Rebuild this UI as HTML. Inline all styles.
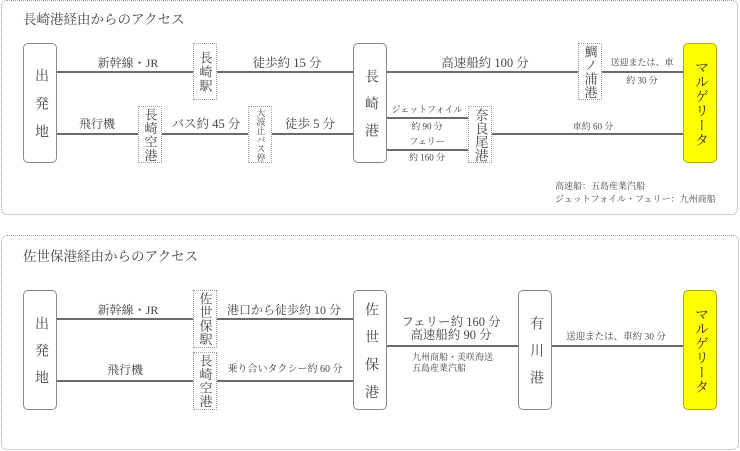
<!DOCTYPE html>
<html><head><meta charset="utf-8">
<style>
html,body{margin:0;padding:0;background:#fff;}
body{width:740px;height:451px;position:relative;overflow:hidden;font-family:"Liberation Serif","Noto Serif CJK SC",serif;color:#444;}
.p{position:absolute;border:1px dotted #9a9a9a;border-radius:6px;box-sizing:border-box;}
.b,.d,.y{position:absolute;box-sizing:border-box;display:flex;align-items:center;justify-content:center;background:#fff;}
.b{border:1px solid #8a8a8a;border-radius:5px;}
.d{border:1px dotted #999;}
.y{border:1px solid #b0a800;border-radius:5px;background:#ffff00;}
.v{writing-mode:vertical-rl;text-orientation:upright;line-height:1;white-space:nowrap;}
.l{position:absolute;height:2px;background:#6b6b6b;}
.t{position:absolute;transform:translate(-50%,-50%);white-space:nowrap;line-height:1;}
.tl{position:absolute;white-space:nowrap;line-height:1;}
</style></head><body>

<!-- Panel 1 -->
<div class="p" style="left:1px;top:0;width:737px;height:215px"></div>
<div class="tl" style="left:23px;top:13px;font-size:13.5px;color:#444">長崎港経由からのアクセス</div>

<div class="l" style="left:57px;top:71px;width:136px"></div>
<div class="l" style="left:217px;top:71px;width:136px"></div>
<div class="l" style="left:387px;top:71px;width:191px"></div>
<div class="l" style="left:602px;top:71px;width:81px"></div>
<div class="l" style="left:57px;top:133px;width:81px"></div>
<div class="l" style="left:162px;top:133px;width:86px"></div>
<div class="l" style="left:272px;top:133px;width:81px"></div>
<div class="l" style="left:492px;top:133px;width:191px"></div>
<div class="l" style="left:387px;top:117px;width:81px"></div>
<div class="l" style="left:387px;top:149px;width:81px"></div>

<div class="b" style="left:23px;top:43px;width:34px;height:120px"><span class="v" style="font-size:14px;letter-spacing:14px;padding-top:14px">出発地</span></div>
<div class="d" style="left:193px;top:43px;width:24px;height:57px"><span class="v" style="font-size:13px;letter-spacing:1px;padding-top:1px">長崎駅</span></div>
<div class="d" style="left:138px;top:106px;width:24px;height:57px"><span class="v" style="font-size:13px;letter-spacing:0.5px">長崎空港</span></div>
<div class="d" style="left:248px;top:106px;width:24px;height:57px"><span class="v" style="font-size:9px;letter-spacing:0px">大波止バス停</span></div>
<div class="b" style="left:353px;top:43px;width:34px;height:120px"><span class="v" style="font-size:14px;letter-spacing:13px;padding-top:13px">長崎港</span></div>
<div class="d" style="left:578px;top:43px;width:24px;height:57px"><span class="v" style="font-size:13px;letter-spacing:0.5px">鯛ノ浦港</span></div>
<div class="d" style="left:468px;top:106px;width:24px;height:57px"><span class="v" style="font-size:13.5px;letter-spacing:0px">奈良尾港</span></div>
<div class="y" style="left:683px;top:43px;width:34px;height:120px"><span class="v" style="font-size:14px;letter-spacing:0.5px;color:#333">マルゲリータ</span></div>

<div class="t" style="left:128px;top:63px;font-size:12px">新幹線・JR</div>
<div class="t" style="left:287px;top:63px;font-size:12.5px">徒歩約 15 分</div>
<div class="t" style="left:97px;top:124px;font-size:12px">飛行機</div>
<div class="t" style="left:206px;top:124px;font-size:12.5px">バス約 45 分</div>
<div class="t" style="left:310px;top:124px;font-size:12.5px">徒歩 5 分</div>
<div class="t" style="left:485px;top:63px;font-size:12.5px">高速船約 100 分</div>
<div class="t" style="left:642px;top:63px;font-size:9px">送迎または、車</div>
<div class="t" style="left:642px;top:81px;font-size:9px">約 30 分</div>
<div class="t" style="left:427px;top:110px;font-size:9px">ジェットフォイル</div>
<div class="t" style="left:427px;top:127px;font-size:9px">約 90 分</div>
<div class="t" style="left:427px;top:142px;font-size:9px">フェリー</div>
<div class="t" style="left:427px;top:158px;font-size:9px">約 160 分</div>
<div class="t" style="left:593px;top:127px;font-size:9px">車約 60 分</div>
<div class="tl" style="left:555px;top:180px;font-size:9px;line-height:13px">高速船：五島産業汽船<br>ジェットフォイル・フェリー：九州商船</div>

<!-- Panel 2 -->
<div class="p" style="left:1px;top:235px;width:738px;height:215px"></div>
<div class="tl" style="left:23px;top:250px;font-size:13.5px;color:#444">佐世保港経由からのアクセス</div>

<div class="l" style="left:57px;top:318px;width:136px"></div>
<div class="l" style="left:217px;top:318px;width:136px"></div>
<div class="l" style="left:57px;top:380px;width:136px"></div>
<div class="l" style="left:217px;top:380px;width:136px"></div>
<div class="l" style="left:387px;top:345px;width:131px"></div>
<div class="l" style="left:552px;top:345px;width:131px"></div>

<div class="b" style="left:23px;top:290px;width:34px;height:120px"><span class="v" style="font-size:14px;letter-spacing:13px;padding-top:13px">出発地</span></div>
<div class="d" style="left:193px;top:290px;width:24px;height:58px"><span class="v" style="font-size:13px;letter-spacing:0.5px">佐世保駅</span></div>
<div class="d" style="left:193px;top:352px;width:24px;height:58px"><span class="v" style="font-size:13px;letter-spacing:0.5px">長崎空港</span></div>
<div class="b" style="left:353px;top:290px;width:34px;height:120px"><span class="v" style="font-size:14px;letter-spacing:13.5px;padding-top:13.5px">佐世保港</span></div>
<div class="b" style="left:518px;top:290px;width:34px;height:120px"><span class="v" style="font-size:14px;letter-spacing:13px;padding-top:13px">有川港</span></div>
<div class="y" style="left:683px;top:290px;width:34px;height:120px"><span class="v" style="font-size:14px;letter-spacing:0.5px;color:#333">マルゲリータ</span></div>

<div class="t" style="left:128px;top:310px;font-size:12px">新幹線・JR</div>
<div class="t" style="left:284px;top:310px;font-size:12px">港口から徒歩約 10 分</div>
<div class="t" style="left:125px;top:370px;font-size:12px">飛行機</div>
<div class="t" style="left:285px;top:370px;font-size:10px">乗り合いタクシー約 60 分</div>
<div class="t" style="left:451px;top:322px;font-size:12.5px">フェリー約 160 分</div>
<div class="t" style="left:451px;top:335px;font-size:12.5px">高速船約 90 分</div>
<div class="tl" style="left:412px;top:352px;font-size:9px;line-height:11px">九州商船・美咲海送<br>五島産業汽船</div>
<div class="t" style="left:616px;top:338px;font-size:9.5px">送迎または、車約 30 分</div>

</body></html>
